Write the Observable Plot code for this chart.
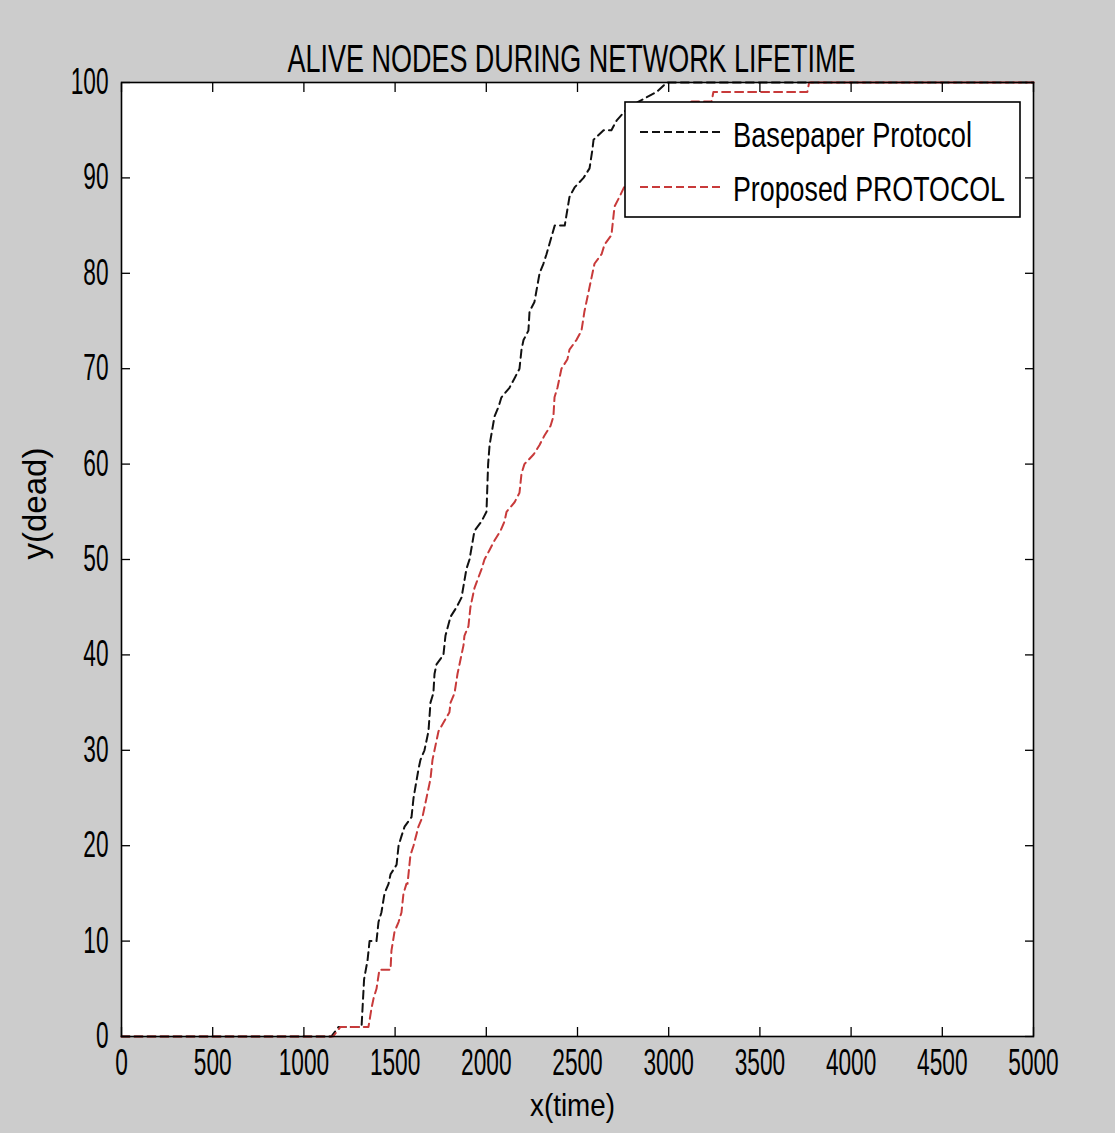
<!DOCTYPE html>
<html>
<head>
<meta charset="utf-8">
<script src="https://cdn.jsdelivr.net/npm/d3@7"></script>
<script src="https://cdn.jsdelivr.net/npm/@observablehq/plot@0.6"></script>
<style>
  html, body { margin: 0; padding: 0; background: #cccccc; }
  #chart { width: 1115px; height: 1133px; }
</style>
</head>
<body>
<div id="chart"></div>
<script>
// Chart text
const title = "ALIVE NODES DURING NETWORK LIFETIME";
const xLabel = "x(time)";
const yLabel = "y(dead)";
const seriesNames = ["Basepaper Protocol", "Proposed PROTOCOL"];
const seriesColors = ["#111111", "#c83a3a"];

// Axis ticks
const xTicks = [0, 500, 1000, 1500, 2000, 2500, 3000, 3500, 4000, 4500, 5000];
const yTicks = [0, 10, 20, 30, 40, 50, 60, 70, 80, 90, 100];

// Dead nodes over time, [time, dead]
const basepaper = [
  [0, 0], [1150, 0], [1190, 1], [1316, 1], [1330, 6], [1349, 8], [1360, 10], [1398, 10],
  [1409, 12], [1425, 13], [1442, 15], [1464, 16], [1475, 17], [1508, 18], [1519, 20],
  [1535, 21], [1552, 22], [1590, 23], [1601, 25], [1628, 28], [1639, 29], [1661, 30],
  [1683, 32], [1694, 35], [1710, 36], [1716, 38], [1727, 39], [1765, 40], [1776, 42],
  [1804, 44], [1837, 45], [1864, 46], [1891, 49], [1908, 50], [1935, 53], [1974, 54],
  [2001, 55], [2010, 60], [2018, 62], [2045, 65], [2067, 66], [2083, 67], [2127, 68],
  [2155, 69], [2182, 70], [2193, 72], [2204, 73], [2231, 74], [2237, 76], [2264, 77],
  [2292, 80], [2313, 81], [2330, 82], [2375, 85], [2430, 85], [2456, 88], [2484, 89],
  [2533, 90], [2566, 91], [2582, 93], [2588, 94], [2643, 95], [2686, 95], [2714, 96],
  [2760, 97], [2835, 98], [2933, 99], [2990, 100], [5000, 100]
];
const proposed = [
  [0, 0], [1160, 0], [1200, 1], [1354, 1], [1371, 3], [1382, 4], [1398, 5], [1414, 7],
  [1475, 7], [1480, 9], [1497, 11], [1519, 12], [1535, 13], [1546, 15], [1562, 16],
  [1568, 16], [1584, 19], [1601, 20], [1628, 22], [1650, 23], [1661, 24], [1694, 27],
  [1705, 29], [1716, 30], [1738, 32], [1798, 34], [1804, 35], [1826, 36], [1842, 38],
  [1853, 39], [1875, 41], [1880, 42], [1902, 43], [1913, 45], [1935, 47], [1974, 49],
  [1990, 50], [2018, 51], [2045, 52], [2078, 53], [2100, 54], [2111, 55], [2155, 56],
  [2182, 57], [2193, 59], [2209, 60], [2259, 61], [2292, 62], [2319, 63], [2352, 64],
  [2368, 65], [2374, 67], [2390, 68], [2412, 70], [2445, 71], [2456, 72], [2494, 73],
  [2522, 74], [2538, 76], [2560, 78], [2593, 81], [2632, 82], [2648, 83], [2686, 84],
  [2703, 87], [2730, 88], [2780, 90], [2850, 92], [2930, 94], [3020, 96], [3125, 98],
  [3235, 98], [3245, 99], [3760, 99], [3770, 100], [5000, 100]
];

const rows = [
  ...basepaper.map(([t, d]) => ({series: seriesNames[0], t, d})),
  ...proposed.map(([t, d]) => ({series: seriesNames[1], t, d}))
];

const font = "'Liberation Sans', Arial, Helvetica, sans-serif";
const plain = d => String(d);

const chart = Plot.plot({
  width: 1115,
  height: 1133,
  marginLeft: 121,
  marginRight: 82,
  marginTop: 82,
  marginBottom: 97,
  style: {background: "#cccccc", fontFamily: font, fontSize: "36px", color: "#000", overflow: "visible"},
  x: {domain: [0, 5000]},
  y: {domain: [0, 100]},
  color: {domain: seriesNames, range: seriesColors},
  marks: [
    Plot.frame({fill: "white", stroke: null}),
    Plot.line(rows, {x: "t", y: "d", z: "series", stroke: "series", strokeWidth: 2, strokeDasharray: "8,5"}),
    Plot.axisX({anchor: "bottom", ticks: xTicks, tickSize: -9, tickPadding: 22, tickFormat: plain, label: null, fontSize: 36, strokeWidth: 1.3}),
    Plot.axisX({anchor: "top", ticks: xTicks, tickSize: -9, tickFormat: () => "", label: null, strokeWidth: 1.3}),
    Plot.axisY({anchor: "left", ticks: yTicks, tickSize: -9, tickPadding: 22, tickFormat: plain, label: null, fontSize: 36, strokeWidth: 1.3}),
    Plot.axisY({anchor: "right", ticks: yTicks, tickSize: -9, tickFormat: () => "", label: null, strokeWidth: 1.3}),
    Plot.frame({stroke: "black", strokeWidth: 1.6}),
    Plot.text([title], {text: d => d, frameAnchor: "top", dy: -37, dx: -6, fontSize: 38}),
    Plot.text([xLabel], {text: d => d, frameAnchor: "bottom", dy: 79, dx: -5, fontSize: 32}),
    Plot.text([yLabel], {text: d => d, frameAnchor: "left", dx: -86, rotate: -90, fontSize: 33})
  ]
});

document.getElementById("chart").append(chart);

// Legend box in the upper right of the plot area
const svg = d3.select(chart);
const legend = svg.append("g")
  .attr("font-family", font).attr("font-size", 35).attr("fill", "#000").attr("text-anchor", "start");
legend.append("rect")
  .attr("x", 625).attr("y", 102).attr("width", 395).attr("height", 115)
  .attr("fill", "white").attr("stroke", "black").attr("stroke-width", 1.6);
const legendRows = [{y: 132, base: 147}, {y: 187, base: 201}];
seriesNames.forEach((name, i) => {
  legend.append("line")
    .attr("x1", 640).attr("x2", 724).attr("y1", legendRows[i].y).attr("y2", legendRows[i].y)
    .attr("stroke", seriesColors[i]).attr("stroke-width", 2).attr("stroke-dasharray", "8,4");
  legend.append("text").attr("x", 733).attr("y", legendRows[i].base).text(name);
});

// Narrow the horizontal lettering
const targetWidths = new Map([
  [title, 568], [xLabel, 85], [seriesNames[0], 239], [seriesNames[1], 272]
]);
svg.selectAll("text").each(function () {
  const s = this.textContent;
  if (!s || s === yLabel) return;
  const len = this.getComputedTextLength();
  if (!len) return;
  const w = targetWidths.has(s) ? targetWidths.get(s) : len * 0.63;
  this.setAttribute("textLength", w);
  this.setAttribute("lengthAdjust", "spacingAndGlyphs");
});
</script>
</body>
</html>
